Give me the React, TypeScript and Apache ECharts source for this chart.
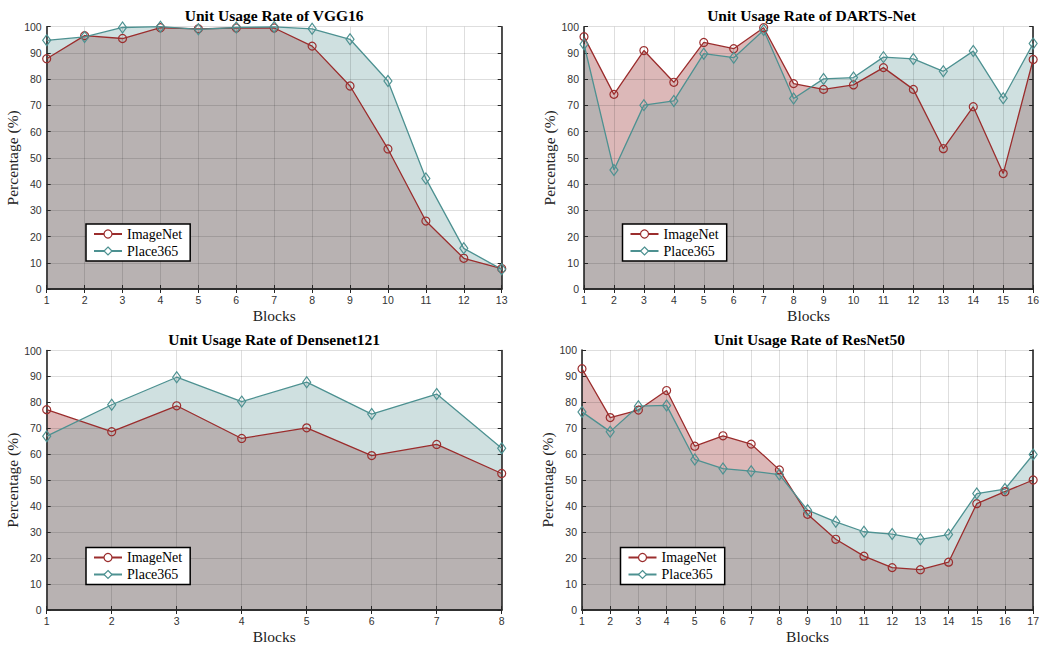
import React, { useEffect, useRef } from "react";
import * as echarts from "echarts";

// ---- Data ----
const titles = [
  "Unit Usage Rate of VGG16",
  "Unit Usage Rate of DARTS-Net",
  "Unit Usage Rate of Densenet121",
  "Unit Usage Rate of ResNet50",
];

const vggImageNet = [87.8, 96.6, 95.5, 99.6, 99.2, 99.5, 99.5, 92.6, 77.4, 53.4, 25.9, 11.7, 7.8];
const vggPlace365 = [94.8, 96.1, 99.7, 100, 99.0, 99.7, 99.9, 99.2, 95.2, 79.3, 42.1, 15.5, 7.5];

const dartsImageNet = [96.2, 74.2, 90.9, 78.8, 94.0, 91.6, 99.6, 78.3, 76.1, 77.8, 84.4, 76.1, 53.5, 69.5, 44.0, 87.5];
const dartsPlace365 = [93.3, 45.4, 70.1, 71.7, 89.7, 88.2, 98.7, 72.6, 80.1, 80.6, 88.4, 87.7, 83.0, 90.7, 72.7, 93.6];

const denseImageNet = [77.2, 68.7, 78.7, 66.1, 70.2, 59.5, 63.8, 52.6];
const densePlace365 = [67.0, 79.1, 89.7, 80.3, 87.8, 75.5, 83.2, 62.3];

const resImageNet = [92.8, 74.0, 76.9, 84.4, 63.0, 67.0, 63.8, 53.9, 36.8, 27.2, 20.7, 16.3, 15.5, 18.4, 40.9, 45.5, 50.0];
const resPlace365 = [76.2, 68.6, 78.4, 78.7, 57.9, 54.4, 53.4, 52.1, 38.4, 33.9, 30.1, 29.2, 27.2, 29.0, 44.8, 46.5, 59.8];

const seriesNames = ["ImageNet", "Place365"];
const yTicks = { min: 0, max: 100, interval: 10 };
const xLabel = "Blocks";
const yLabel = "Percentage (%)";

const charts = [
  { imagenet: vggImageNet, place: vggPlace365 },
  { imagenet: dartsImageNet, place: dartsPlace365 },
  { imagenet: denseImageNet, place: densePlace365 },
  { imagenet: resImageNet, place: resPlace365 },
];

// ---- Layout / style ----
const gridBoxes = [
  { left: 46.7, top: 26.7, width: 455, height: 262.3 },
  { left: 584, top: 26.7, width: 455, height: 262.3 },
  { left: 46.7, top: 350.5, width: 455, height: 261.7 },
  { left: 582, top: 350, width: 454.7, height: 262 },
];
const legendPos = [
  { left: 86, top: 224 },
  { left: 622.5, top: 224 },
  { left: 86, top: 547.5 },
  { left: 620.5, top: 547.5 },
];

const RED = "#9b2d2d";
const TEAL = "#4d9191";
const RED_FILL = "rgba(155,52,52,0.35)";
const TEAL_FILL = "rgba(118,166,166,0.35)";
const FRAME = "#262626";
const SANS = "Liberation Sans";
const SERIF = "Liberation Serif";

function buildOption() {
  const grid: any[] = [];
  const xAxis: any[] = [];
  const yAxis: any[] = [];
  const series: any[] = [];
  const legend: any[] = [];
  const graphic: any[] = [];

  charts.forEach((c, i) => {
    const g = gridBoxes[i];
    const n = c.imagenet.length;
    grid.push({ ...g, containLabel: false, show: false });

    const tick = { show: true, inside: true, length: 4, lineStyle: { color: FRAME, width: 1 } };
    const axisLine = { show: true, lineStyle: { color: FRAME, width: 1.6 } };
    const split = { show: true, lineStyle: { color: "rgba(0,0,0,0.13)", width: 1 } };

    xAxis.push({
      type: "value", gridIndex: i, min: 1, max: n, interval: 1, position: "bottom", z: 10,
      axisLine, axisTick: tick, splitLine: split,
      axisLabel: { show: true, margin: 5, color: "#333", fontFamily: SANS, fontSize: 10.5, showMaxLabel: true, showMinLabel: true },
      name: xLabel, nameLocation: "middle", nameGap: 18,
      nameTextStyle: { fontFamily: SERIF, fontSize: 15.5, color: "#222" },
    });
    xAxis.push({
      type: "value", gridIndex: i, min: 1, max: n, interval: 1, position: "top", z: 10,
      axisLine, axisTick: tick, splitLine: { show: false }, axisLabel: { show: false },
    });
    yAxis.push({
      type: "value", gridIndex: i, ...yTicks, position: "left", z: 10,
      axisLine, axisTick: tick, splitLine: split,
      axisLabel: { show: true, margin: 5, color: "#333", fontFamily: SANS, fontSize: 10.5 },
      name: yLabel, nameLocation: "middle", nameGap: 23,
      nameTextStyle: { fontFamily: SERIF, fontSize: 15.5, color: "#222" },
    });
    yAxis.push({
      type: "value", gridIndex: i, ...yTicks, position: "right", z: 10,
      axisLine, axisTick: tick, splitLine: { show: false }, axisLabel: { show: false },
    });

    const xi = i * 2;
    const yi = i * 2;
    const toPts = (arr: number[]) => arr.map((v, k) => [k + 1, v]);

    series.push({
      name: "ImageNet fill", type: "line", xAxisIndex: xi, yAxisIndex: yi,
      data: toPts(c.imagenet), symbol: "none", lineStyle: { width: 0 },
      areaStyle: { color: RED_FILL, opacity: 1 }, z: 2, silent: true,
    });
    series.push({
      name: "Place365 fill", type: "line", xAxisIndex: xi, yAxisIndex: yi,
      data: toPts(c.place), symbol: "none", lineStyle: { width: 0 },
      areaStyle: { color: TEAL_FILL, opacity: 1 }, z: 3, silent: true,
    });
    series.push({
      name: seriesNames[0], type: "line", xAxisIndex: xi, yAxisIndex: yi,
      data: toPts(c.imagenet), symbol: "circle", symbolSize: 8,
      lineStyle: { color: RED, width: 1.3 },
      itemStyle: { color: "rgba(0,0,0,0)", borderColor: RED, borderWidth: 1.2 },
      z: 12,
    });
    series.push({
      name: seriesNames[1], type: "line", xAxisIndex: xi, yAxisIndex: yi,
      data: toPts(c.place), symbol: "diamond", symbolSize: [8, 11],
      lineStyle: { color: TEAL, width: 1.3 },
      itemStyle: { color: "rgba(0,0,0,0)", borderColor: TEAL, borderWidth: 1.2 },
      z: 12,
    });

    legend.push({
      ...legendPos[i], orient: "vertical",
      data: seriesNames.map((nm) => ({ name: nm, textStyle: { fontFamily: SERIF, fontSize: 14, color: "#000" } })),
      itemWidth: 28, itemHeight: 10, itemGap: 3, padding: [3, 8, 3, 7],
      backgroundColor: "#fff", borderColor: "#000", borderWidth: 1.5, borderRadius: 0,
      textStyle: { fontFamily: SERIF, fontSize: 14, color: "#000", lineHeight: 14 },
      itemStyle: { color: "#fff", borderColor: "inherit", borderWidth: 1.2 },
      selectedMode: false, z: 20,
    });

    graphic.push({
      type: "text", x: g.left + g.width / 2, y: g.top - 11,
      style: {
        text: titles[i], fill: "#000", font: `bold 15.5px ${SERIF}`,
        textAlign: "center", textVerticalAlign: "middle",
      },
      z: 30,
    });
  });

  return { animation: false, backgroundColor: "#fff", grid, xAxis, yAxis, series, legend, graphic };
}

export default function App() {
  const ref = useRef<HTMLDivElement>(null);
  useEffect(() => {
    if (!ref.current) return;
    const chart = echarts.init(ref.current, undefined, { renderer: "svg" });
    chart.setOption(buildOption() as any);
    return () => chart.dispose();
  }, []);
  return (
    <div
      ref={ref}
      style={{ position: "absolute", left: 0, top: 0, width: 1042, height: 645, background: "#fff" }}
    />
  );
}
